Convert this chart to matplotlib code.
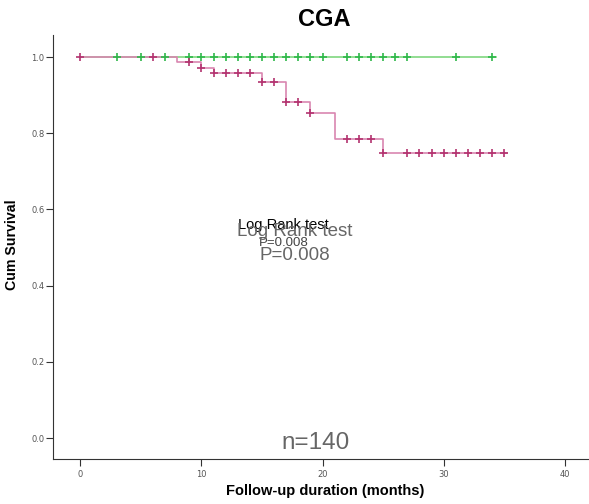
import matplotlib.pyplot as plt
import numpy as np

# group 1 (green): no events, only censored cases
green_censor = [3, 5, 7, 9, 10, 11, 12, 13, 14, 15, 16, 17, 18, 19, 20, 22, 23,
                24, 25, 26, 27, 31, 34]
green_end = 34.3

# group 2 (pink): step times and survival after each step
pink_times = [0, 8, 10, 11, 15, 17, 19, 21, 25]
pink_surv = [1.0, 0.986, 0.972, 0.957, 0.934, 0.883, 0.852, 0.786, 0.747]
pink_censor = [0, 6, 9, 10, 11, 12, 13, 14, 15, 16, 17, 18, 19, 22, 23, 24,
               25, 27, 28, 29, 30, 31, 32, 33, 34, 35]
pink_end = 35.2

GREEN_LINE = "#7fd77f"
GREEN_MARK = "#2fb84a"
PINK_LINE = "#d986b0"
PINK_MARK = "#b3336f"

fig = plt.figure(figsize=(5.89, 5.04), dpi=100)
ax = fig.add_axes([0.0905, 0.0893, 0.9095, 0.8413])

# green curve
ax.plot([0, green_end], [1.0, 1.0], color=GREEN_LINE, lw=1.2, zorder=2)
ax.plot(green_censor, np.ones(len(green_censor)), ls="none", marker="+",
        ms=6, mew=1.2, color=GREEN_MARK, zorder=3)

# pink curve
px = list(pink_times) + [pink_end]
py = list(pink_surv) + [pink_surv[-1]]
ax.step(px, py, where="post", color=PINK_LINE, lw=1.2, zorder=2)
idx = np.searchsorted(pink_times, pink_censor, side="right") - 1
ax.plot(pink_censor, np.array(pink_surv)[idx], ls="none", marker="+",
        ms=6, mew=1.2, color=PINK_MARK, zorder=3)

ax.set_xlim(-2.23, 42)
ax.set_ylim(-0.055, 1.058)
ax.set_xticks([0, 10, 20, 30, 40])
ax.set_yticks([0.0, 0.2, 0.4, 0.6, 0.8, 1.0])
ax.set_yticklabels(["0.0", "0.2", "0.4", "0.6", "0.8", "1.0"])
ax.tick_params(direction="out", length=5, width=0.8, labelsize=6,
               colors="#333333", labelcolor="#555555", pad=1.5)
ax.tick_params(axis="x", pad=3)
for s in ["top", "right"]:
    ax.spines[s].set_visible(False)
for s in ["left", "bottom"]:
    ax.spines[s].set_color("#333333")
    ax.spines[s].set_linewidth(0.8)

fig.text(12.5 / 589, 1 - 245 / 504, "Cum Survival", rotation=90, ha="center",
         va="center", fontsize=10.2, fontweight="bold", family="Liberation Sans")
fig.text(325 / 589, 1 - 491.5 / 504, "Follow-up duration (months)", ha="center",
         va="center", fontsize=10.5, fontweight="bold", family="Liberation Sans")
fig.text(324 / 589, 1 - 19 / 504, "CGA", ha="center", va="center", fontsize=17,
         fontweight="bold", family="Liberation Sans")

# annotations
ax.text(16.8, 0.559, "Log Rank test", ha="center", va="center", fontsize=10.5,
        family="Liberation Sans", color="black")
ax.text(16.8, 0.512, "P=0.008", ha="center", va="center", fontsize=9.5,
        family="Liberation Sans", color="#444444")
ax.text(17.7, 0.543, "Log Rank test", ha="center", va="center", fontsize=13.5,
        family="Liberation Sans", color="#666666")
ax.text(17.7, 0.478, "P=0.008", ha="center", va="center", fontsize=13.5,
        family="Liberation Sans", color="#666666")
ax.text(19.4, -0.013, "n=140", ha="center", va="center", fontsize=17.5,
        family="Liberation Sans", color="#666666")

fig.savefig("out.png", dpi=100)
